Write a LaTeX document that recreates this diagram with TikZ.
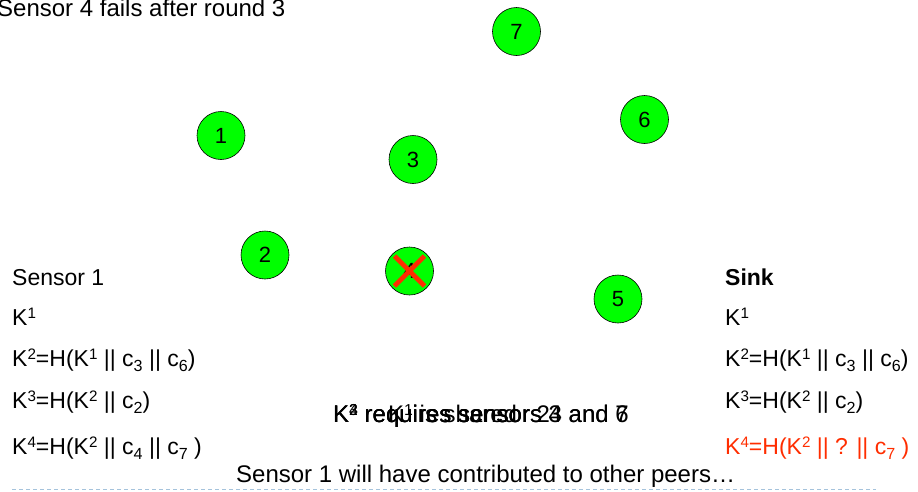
\documentclass[tikz,border=0pt]{standalone}
\usepackage{fontspec}
\usepackage{graphicx}
\setmainfont{Liberation Sans}
\usetikzlibrary{calc}
\definecolor{nodegreen}{RGB}{0,255,0}
\definecolor{alertred}{RGB}{255,45,0}
\definecolor{rulegrey}{RGB}{165,195,220}
\tikzset{
  sensor/.style={circle,draw=black,line width=0.6pt,fill=nodegreen,minimum size=48pt,inner sep=0pt,font=\fontsize{22}{26}\selectfont},
  txt/.style={anchor=base west,inner sep=0pt,font=\fontsize{23}{27}\selectfont},
  bigtxt/.style={anchor=base west,inner sep=0pt,font=\fontsize{24}{28}\selectfont},
  cross/.style={alertred,line width=4.8pt}
}
% index digits set as in the slide: smaller, slightly raised or lowered
\newcommand{\supx}[1]{\raisebox{0.27em}{\scalebox{0.66}{#1}}}
\newcommand{\subx}[1]{\raisebox{-0.24em}{\scalebox{0.7}{#1}}}
\begin{document}
\begin{tikzpicture}[x=1pt,y=-1pt]
\useasboundingbox (0,0) rectangle (918,491);

% title
\node[bigtxt] (title) at (-3,16) {Sensor 4 fails after round 3};

% sensors
\node[sensor] (n7) at (516.5,31.5) {7};
\node[sensor] (n6) at (644.5,119.5) {6};
\node[sensor] (n1) at (221,135.5) {1};
\node[sensor] (n3) at (413,159.5) {3};
\node[sensor] (n2) at (265,255) {2};
\node[sensor] (n4) at (409.5,271) {4};
\node[sensor] (n5) at (618,299) {5};

% failed sensor
\draw[cross] ($(n4.center)+(-15,-15)$) -- ($(n4.center)+(15,15)$);
\draw[cross] ($(n4.center)+(15,-15)$) -- ($(n4.center)+(-15,15)$);

% key chain held by sensor 1
\node[txt] (s1) at (12,285) {Sensor 1};
\node[txt] (s1k1) at (12,325) {K\supx{1}};
\node[txt] (s1k2) at (12,366) {K\supx{2}=H(K\supx{1} || c\subx{3} || c\subx{6})};
\node[txt] (s1k3) at (12,408) {K\supx{3}=H(K\supx{2} || c\subx{2})};
\node[txt] (s1k4) at (12,454) {K\supx{4}=H(K\supx{2} || c\subx{4} || c\subx{7} )};

% key chain held by the sink
\node[txt,font=\fontsize{23}{27}\selectfont\bfseries] (sk) at (725,285) {Sink};
\node[txt] (skk1) at (725,325) {K\supx{1}};
\node[txt] (skk2) at (725,366) {K\supx{2}=H(K\supx{1} || c\subx{3} || c\subx{6})};
\node[txt] (skk3) at (725,408) {K\supx{3}=H(K\supx{2} || c\subx{2})};
\node[txt,text=alertred] (skk4) at (725,454) {K\supx{4}=H(K\supx{2} || ? || c\subx{7} )};

% stacked captions, one per round
\node[bigtxt] (capA) at (333,422) {K\supx{2} requires sensors 3 and 6};
\node[bigtxt] (capB) at (333,422) {K\supx{3} requires sensor 2};
\node[bigtxt] (capC) at (333,422) {K\supx{4} requires sensors 4 and 7};
\node[bigtxt] (capD) at (388,422) {K\supx{1} is shared};

\node[bigtxt] (note) at (236,482) {Sensor 1 will have contributed to other peers…};

% footer rule
\coordinate (ruleL) at (12,489);
\coordinate (ruleR) at (876,489);
\draw[rulegrey,line width=0.9pt,dash pattern=on 4pt off 3pt] (ruleL) -- (ruleR);
\end{tikzpicture}
\end{document}
